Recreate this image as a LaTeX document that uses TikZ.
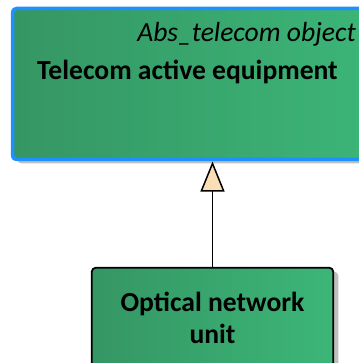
\documentclass[tikz,border=0pt]{standalone}
\usepackage{fontspec}
\setmainfont{Carlito}
\usetikzlibrary{arrows.meta,shadows,positioning}

\definecolor{greenleft}{RGB}{53,150,100}
\definecolor{greenright}{RGB}{60,182,120}
\definecolor{borderblue}{RGB}{30,144,255}
\definecolor{tipfill}{RGB}{250,222,180}

\tikzset{
  classbox/.style={rectangle, rounded corners=4pt, left color=greenleft, right color=greenright,
    outer sep=0pt, inner sep=0pt, anchor=north west,
    drop shadow={shadow xshift=5pt, shadow yshift=-4pt, fill=black!25, opacity=1}},
  umltext/.style={inner sep=0pt}
}

\begin{document}
\begin{tikzpicture}[x=1pt, y=-1pt, line join=round]
    \useasboundingbox (0,0) rectangle (358,363);

    % Class boxes
    \node[classbox, draw=borderblue, line width=3.5pt, minimum width=370pt, minimum height=151pt]
        (telecom) at (12.5,8.5) {};
    \node[classbox, draw=black, line width=1.8pt, minimum width=241.5pt, minimum height=120pt]
        (onu) at (91.75,267.75) {};

    % Texts
    \node[umltext, anchor=base east, font=\fontsize{27.6}{32}\selectfont\itshape]
        (stereo) at (356,42) {Abs\_telecom object};
    \node[umltext, anchor=base west, font=\fontsize{27.6}{32}\selectfont\bfseries]
        (title) at (37,80) {Telecom active equipment};
    \node[umltext, anchor=north, align=center, font=\fontsize{27.6}{32}\selectfont\bfseries]
        (onulabel) at (212.5,292) {Optical network\\unit};

    % Generalization
    \draw[line width=1.5pt, -{Triangle[width=24pt, length=30pt, fill=tipfill]}, shorten >=2pt]
        (onu.north) -- (telecom.south -| onu.north);

\end{tikzpicture}
\end{document}
